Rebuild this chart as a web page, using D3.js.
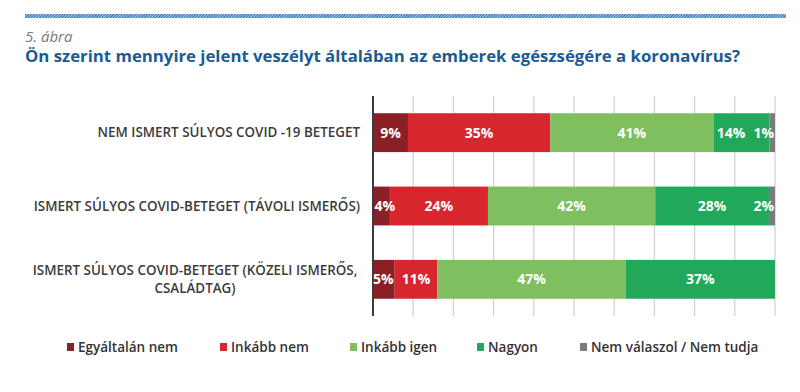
<!DOCTYPE html>
<html>
<head>
<meta charset="utf-8">
<script src="https://cdn.jsdelivr.net/npm/d3@7"></script>
<style>
  html, body { margin: 0; padding: 0; background: #fff; }
  svg { display: block; }
</style>
</head>
<body>
<svg id="chart" width="800" height="392"></svg>
<script>
const categories = [
  ["NEM ISMERT SÚLYOS COVID -19 BETEGET"],
  ["ISMERT SÚLYOS COVID-BETEGET (TÁVOLI ISMERŐS)"],
  ["ISMERT SÚLYOS COVID-BETEGET (KÖZELI ISMERŐS,", "CSALÁDTAG)"]
];
const seriesNames = ["Egyáltalán nem", "Inkább nem", "Inkább igen", "Nagyon", "Nem válaszol / Nem tudja"];
const seriesColors = ["#8a1f25", "#d8262e", "#80bf5f", "#22a85a", "#7b7b7b"];
// values per category, in series order (percent)
const egyaltalanNem = [8.7, 4.2, 5.4];
const inkabbNem     = [35.4, 24.4, 10.6];
const inkabbIgen    = [40.6, 41.6, 46.9];
const nagyon        = [13.9, 28.3, 37.1];
const nemValaszol   = [1.4, 1.5, 0];
const xTicks = [0, 10, 20, 30, 40, 50, 60, 70, 80, 90, 100];

const series = [egyaltalanNem, inkabbNem, inkabbIgen, nagyon, nemValaszol];
const svg = d3.select("#chart");
const font = "'Open Sans', sans-serif";

// top hatched rule
const defs = svg.append("defs");
const pat = defs.append("pattern").attr("id", "hatch").attr("patternUnits", "userSpaceOnUse")
  .attr("width", 2).attr("height", 2).attr("patternTransform", "rotate(45)");
pat.append("rect").attr("width", 2).attr("height", 2).attr("fill", "#a9c8e6");
pat.append("rect").attr("width", 1).attr("height", 2).attr("fill", "#2f74b8");
svg.append("rect").attr("x", 25).attr("y", 14).attr("width", 761).attr("height", 4).attr("fill", "url(#hatch)");

svg.append("text").attr("x", 25).attr("y", 42).text("5. ábra")
  .attr("font-family", font).attr("font-style", "italic").attr("font-size", 15).attr("fill", "#7a7a7a");
svg.append("text").attr("x", 25).attr("y", 62)
  .text("Ön szerint mennyire jelent veszélyt általában az emberek egészségére a koronavírus?")
  .attr("font-family", font).attr("font-weight", 700).attr("font-size", 16).attr("fill", "#1b5b94")
  .attr("textLength", 715).attr("lengthAdjust", "spacingAndGlyphs");

const x = d3.scaleLinear().domain([0, 100]).range([373, 775]);
const y = d3.scaleBand().domain(d3.range(categories.length)).range([96, 316])
  .paddingInner(0.47).paddingOuter(0.235);

// gridlines
svg.append("g").selectAll("line").data(xTicks.slice(1)).join("line")
  .attr("x1", d => x(d)).attr("x2", d => x(d)).attr("y1", 96).attr("y2", 316)
  .attr("stroke", "#d3d3d3").attr("stroke-width", 1.3);

// axis line
svg.append("line").attr("x1", x(0)).attr("x2", x(0)).attr("y1", 96).attr("y2", 316)
  .attr("stroke", "#3a3a3a").attr("stroke-width", 2);

// bars
categories.forEach((cat, i) => {
  let acc = 0;
  const g = svg.append("g");
  const segs = [];
  series.forEach((s, j) => {
    const v = s[i];
    if (!v) return;
    const x0 = x(acc), x1 = x(acc + v);
    g.append("rect").attr("x", x0 + (j === 0 ? 1 : 0)).attr("y", y(i))
      .attr("width", x1 - x0 - (j === 0 ? 1 : 0)).attr("height", y.bandwidth())
      .attr("fill", seriesColors[j]);
    segs.push({ v, x0, x1, last: j === series.length - 1 });
    acc += v;
  });
  // labels on top, nudged to avoid collisions
  const labels = segs.map(sg => {
    const small = sg.last && (sg.x1 - sg.x0) < 15;
    const t = g.append("text").attr("y", y(i) + y.bandwidth() / 2)
      .attr("dy", "0.36em").attr("text-anchor", "start")
      .attr("font-family", font).attr("font-weight", 700).attr("font-size", 14).attr("fill", "#fff")
      .text(Math.round(sg.v) + "%");
    const w = t.node().getComputedTextLength();
    let left = small ? sg.x1 - w - 1 : (sg.x0 + sg.x1) / 2 - w / 2;
    left = Math.max(left, x(0) + 1.5);
    return { t, w, left };
  });
  for (let k = labels.length - 2; k >= 0; k--) {
    const maxRight = labels[k + 1].left - 8;
    if (labels[k].left + labels[k].w > maxRight) labels[k].left = maxRight - labels[k].w;
  }
  labels.forEach(l => l.t.attr("x", l.left));
});

// category labels
categories.forEach((lines, i) => {
  const cy = y(i) + y.bandwidth() / 2;
  const lh = 18;
  lines.forEach((ln, k) => {
    const multi = lines.length > 1;
    svg.append("text")
      .attr("x", multi ? 195 : 360)
      .attr("y", cy - lh * (lines.length - 1) / 2 + k * lh)
      .attr("dy", "0.36em").attr("text-anchor", multi ? "middle" : "end")
      .attr("font-family", font).attr("font-weight", 600).attr("font-size", 13.4).attr("fill", "#3c3c3c")
      .text(ln);
  });
});

// legend
const legendX = [67, 220, 350, 477, 580];
const lg = svg.append("g");
seriesNames.forEach((n, j) => {
  lg.append("rect").attr("x", legendX[j]).attr("y", 343).attr("width", 7).attr("height", 8).attr("fill", seriesColors[j]);
  lg.append("text").attr("x", legendX[j] + 11).attr("y", 347).attr("dy", "0.36em")
    .attr("font-family", font).attr("font-weight", 600).attr("font-size", 13.5).attr("fill", "#333").text(n);
});
</script>
</body>
</html>
